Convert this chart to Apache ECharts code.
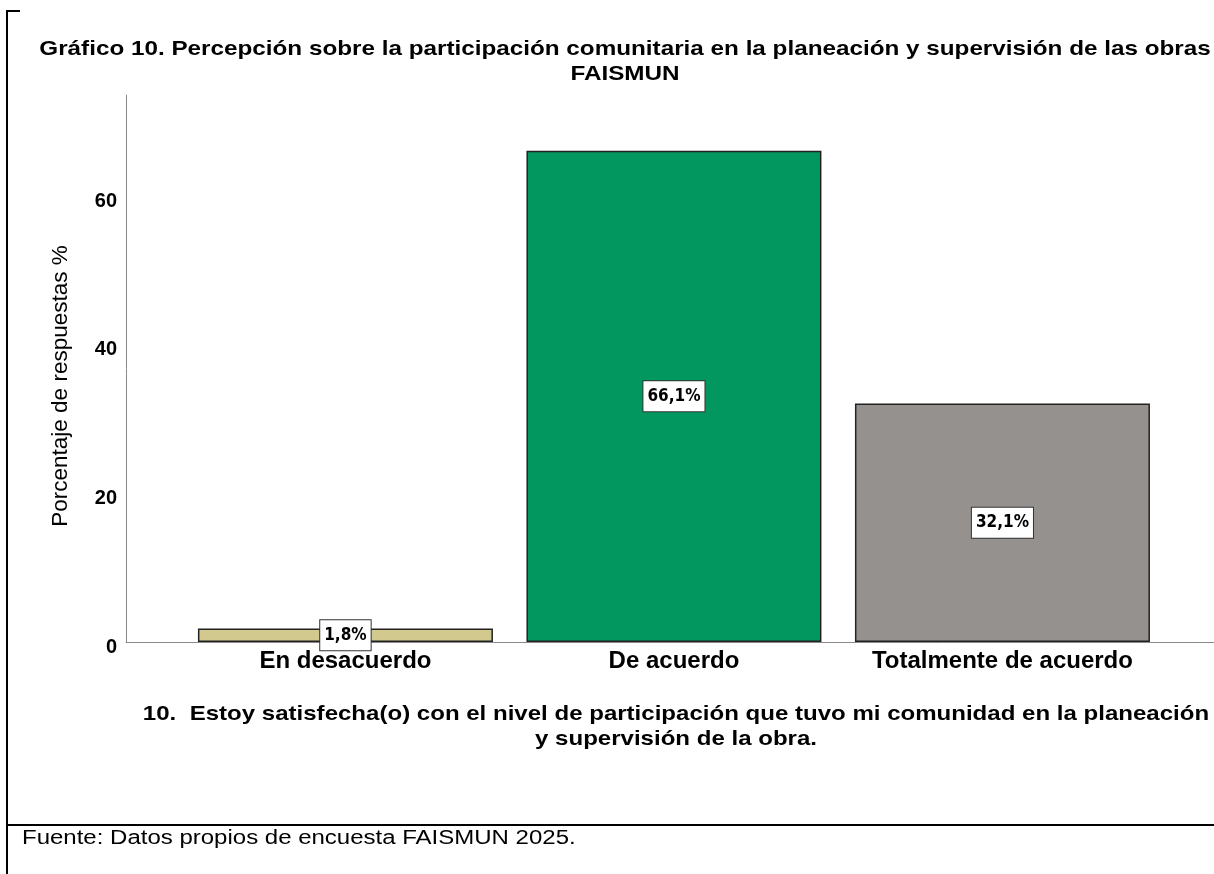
<!DOCTYPE html>
<html><head><meta charset="utf-8">
<script src="https://cdn.jsdelivr.net/npm/echarts@6/dist/echarts.min.js"></script>
<style>html,body{margin:0;padding:0;background:#fff}#c{width:1214px;height:874px}</style>
</head><body><div id="c"></div>
<script>
const categories = ['En desacuerdo', 'De acuerdo', 'Totalmente de acuerdo'];
const catPositions = [1, 2, 3];
const values = [1.8, 66.1, 32.1];
const barColors = ['#d1c98e', '#01975f', '#95918f'];
const yTicks = [0, 20, 40, 60];
const titleLines = ['Gráfico 10. Percepción sobre la participación comunitaria en la planeación y supervisión de las obras', 'FAISMUN'];
const xNameLines = ['10.  Estoy satisfecha(o) con el nivel de participación que tuvo mi comunidad en la planeación', 'y supervisión de la obra.'];
const yName = 'Porcentaje de respuestas %';
const footer = 'Fuente: Datos propios de encuesta FAISMUN 2025.';

const SANS = "'Liberation Sans', Arial, sans-serif";
const NARROW = "'Liberation Sans Narrow', 'Arial Narrow', 'DejaVu Sans Condensed', sans-serif";
const axisLineStyle = { color: '#8a8a8a', width: 1 };

const chart = echarts.init(document.getElementById('c'), null, { renderer: 'canvas' });
chart.setOption({
  animation: false,
  backgroundColor: '#fff',
  grid: { left: 126, right: 0, top: 95, bottom: 232, containLabel: false },
  xAxis: {
    type: 'value', min: 0.332, max: 3.644,
    axisLine: { show: true, onZero: false, lineStyle: axisLineStyle },
    axisTick: { show: false },
    splitLine: { show: false },
    axisLabel: {
      customValues: catPositions,
      formatter: v => categories[Math.round(v) - 1] || '',
      fontSize: 24, fontWeight: 'bold', color: '#000', fontFamily: SANS, margin: 7
    }
  },
  yAxis: {
    type: 'value', min: 0, max: 73.6,
    axisLine: { show: true, lineStyle: axisLineStyle },
    axisTick: { show: false },
    splitLine: { show: false },
    axisLabel: {
      customValues: yTicks,
      fontSize: 20, fontWeight: 'bold', color: '#000', fontFamily: SANS, margin: 9,
      verticalAlign: 'top', lineHeight: 10
    }
  },
  series: [{
    type: 'bar',
    barWidth: 295,
    data: values.map((v, i) => ({ value: [catPositions[i], v], itemStyle: { color: barColors[i] } })),
    itemStyle: { borderColor: '#222', borderWidth: 1.5 },
    label: {
      show: true, position: 'inside',
      formatter: p => String(p.value[1]).replace('.', ',') + '%',
      fontFamily: NARROW, fontWeight: 'bold', fontSize: 17, color: '#000',
      backgroundColor: '#fff', borderColor: '#333', borderWidth: 1,
      padding: [7, 4, 6, 4]
    }
  }],
  graphic: [
    { type: 'text', x: 625, y: 49, scaleX: 1.155, style: { text: titleLines[0], font: "bold 21px " + SANS, fill: '#000', align: 'center', verticalAlign: 'middle' } },
    { type: 'text', x: 625, y: 74, scaleX: 1.155, style: { text: titleLines[1], font: "bold 21px " + SANS, fill: '#000', align: 'center', verticalAlign: 'middle' } },
    { type: 'text', x: 676, y: 714, scaleX: 1.145, style: { text: xNameLines[0], font: "bold 21px " + SANS, fill: '#000', align: 'center', verticalAlign: 'middle' } },
    { type: 'text', x: 676, y: 739, scaleX: 1.145, style: { text: xNameLines[1], font: "bold 21px " + SANS, fill: '#000', align: 'center', verticalAlign: 'middle' } },
    { type: 'text', x: 61, y: 386, rotation: Math.PI / 2, style: { text: yName, font: "22.5px " + SANS, fill: '#000', align: 'center', verticalAlign: 'middle' } },
    { type: 'text', x: 22, y: 838, scaleX: 1.2, style: { text: footer, font: "20px " + SANS, fill: '#000', align: 'left', verticalAlign: 'middle' } },
    { type: 'line', shape: { x1: 7, y1: 10, x2: 7, y2: 874 }, style: { stroke: '#000', lineWidth: 2 } },
    { type: 'line', shape: { x1: 6, y1: 11, x2: 20, y2: 11 }, style: { stroke: '#000', lineWidth: 2 } },
    { type: 'line', shape: { x1: 6, y1: 825, x2: 1214, y2: 825 }, style: { stroke: '#000', lineWidth: 2 } }
  ]
});
</script></body></html>
